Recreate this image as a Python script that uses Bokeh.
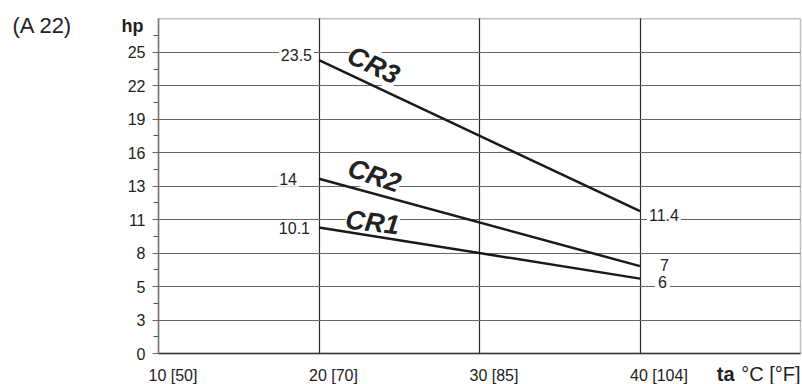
from bokeh.plotting import figure
from bokeh.models import (Range1d, FixedTicker, CustomJSTickFormatter, Label,
                          LinearAxis, Grid, BoxAnnotation)
from bokeh.embed import file_html
from bokeh.resources import INLINE

# ---- data ----
temps = [20, 40]                 # ta in °C
cr1 = [10.1, 6]                  # hp
cr2 = [14, 7]
cr3 = [23.5, 11.4]
series_names = ["CR1", "CR2", "CR3"]
x_ticks = [10, 20, 30, 40]
x_tick_labels = ["10 [50]", "20 [70]", "30 [85]", "40 [104]"]
y_tick_labels = ["0", "3", "5", "8", "11", "13", "16", "19", "22", "25"]
HP_STEP = 2.682                  # one grid step (2 kW) expressed in hp
X_MIN, X_MAX = 10, 50
N_STEPS = 10
Y_TOP = N_STEPS * HP_STEP

FONT = "Liberation Sans"
INK = "#1a1a1a"

# plot box position inside the 802x384 canvas (pixels)
W, H = 802, 384
BOX_L, BOX_R, BOX_T, BOX_B = 158, 800, 18.3, 353
xs_per_px = (X_MAX - X_MIN) / (BOX_R - BOX_L)
ys_per_px = Y_TOP / (BOX_B - BOX_T)
x_range = Range1d(X_MIN - BOX_L * xs_per_px, X_MAX + (W - BOX_R) * xs_per_px)
y_range = Range1d(-(H - BOX_B) * ys_per_px, Y_TOP + BOX_T * ys_per_px)

p = figure(width=W, height=H, x_range=x_range, y_range=y_range,
           output_backend="svg", toolbar_location=None,
           x_axis_location=None, y_axis_location=None,
           min_border=0)
p.min_border_left = p.min_border_right = p.min_border_top = p.min_border_bottom = 0
p.background_fill_color = "white"
p.border_fill_color = "white"
p.outline_line_color = None
p.grid.visible = False

# ---- grids limited to the plot box ----
xg = Grid(dimension=0, ticker=FixedTicker(ticks=[20, 30, 40]),
          cross_bounds=(0, Y_TOP), grid_line_color="#2a2a2a", grid_line_width=1.2)
yg = Grid(dimension=1, ticker=FixedTicker(ticks=[k * HP_STEP for k in range(1, N_STEPS)]),
          cross_bounds=(X_MIN, X_MAX), grid_line_color="#666666", grid_line_width=1.1)
p.add_layout(xg)
p.add_layout(yg)

# box outline
box = BoxAnnotation(left=X_MIN, right=X_MAX, bottom=0, top=Y_TOP,
                    fill_color=None, fill_alpha=0, line_color="#333333",
                    line_width=1.5, level="underlay")
p.add_layout(box)

# ---- y axis (fixed at the left edge of the box) ----
yt = FixedTicker(ticks=[k * HP_STEP for k in range(len(y_tick_labels))],
                 minor_ticks=[(k + 0.5) * HP_STEP for k in range(N_STEPS)])
yax = LinearAxis(fixed_location=X_MIN, bounds=(0, Y_TOP), ticker=yt)
yax.formatter = CustomJSTickFormatter(
    args=dict(labels=y_tick_labels, step=HP_STEP),
    code="const i = Math.round(tick / step); return (i >= 0 && i < labels.length) ? labels[i] : '';")
yax.axis_line_color = "#777777"
yax.axis_line_width = 1.5
yax.major_tick_in = 0
yax.major_tick_out = 6
yax.major_tick_line_color = "#666666"
yax.minor_tick_in = 0
yax.minor_tick_out = 5
yax.minor_tick_line_color = "#555555"
yax.major_label_standoff = 7
yax.major_label_text_font = FONT
yax.major_label_text_font_size = "16px"
yax.major_label_text_color = "#222222"
p.add_layout(yax, "left")

# ---- x axis line (bottom edge of the box); its labels are drawn below ----
xax = LinearAxis(fixed_location=0, bounds=(X_MIN, X_MAX), ticker=FixedTicker(ticks=[]))
xax.axis_line_color = "#333333"
xax.axis_line_width = 1.5
xax.major_tick_in = 0
xax.major_tick_out = 0
xax.minor_tick_in = 0
xax.minor_tick_out = 0
p.add_layout(xax, "below")

# ---- curves ----
for ys in (cr1, cr2, cr3):
    p.line(temps, ys, line_color=INK, line_width=2.5)


def lab(x, y, text, align="left", dx=0, dy=0, size="16px", style="normal",
        angle=0.0, bg=None, pad=0, level="annotation"):
    L = Label(x=x, y=y, text=text, x_offset=dx, y_offset=dy,
              text_align=align, text_baseline="middle", text_font=FONT,
              text_font_size=size, text_font_style=style, text_color="#222222",
              angle=angle, angle_units="rad", level=level)
    if bg:
        L.background_fill_color = bg
        L.padding = pad
    p.add_layout(L)


# value labels at the ends of the curves
lab(temps[0], cr3[0], str(cr3[0]), align="right", dx=-5, dy=5, bg="white", pad=2)
lab(temps[0], cr2[0], str(cr2[0]), align="right", dx=-20, dy=0, bg="white", pad=2)
lab(temps[0], cr1[0], str(cr1[0]), align="right", dx=-7, dy=-1, bg="white", pad=2)
lab(temps[1], cr3[1], str(cr3[1]), align="left", dx=7, dy=-4, bg="white", pad=2)
lab(temps[1], cr2[1], str(cr2[1]), align="left", dx=18, dy=1, bg="white", pad=2)
lab(temps[1], cr1[1], str(cr1[1]), align="left", dx=15, dy=-3, bg="white", pad=3)

# series names (bold italic, rotated along the curves)
name_pos = [(23.33, 10.5, -0.12), (23.45, 14.25, -0.33), (23.4, 23.1, -0.44)]
for name, (nx, ny, ang) in zip(series_names, name_pos):
    lab(nx, ny, name, align="center", size="27px", style="bold italic",
        angle=ang, bg="white", pad=0, level="underlay")

# x tick labels (below the box)
for xv, t in zip(x_ticks, x_tick_labels):
    lab(xv, 0, t, align="left", dx=-10, dy=-22)

# axis titles and panel tag
lab(X_MIN, Y_TOP, "hp", align="right", dx=-15, dy=-7, size="18px", style="bold")
lab(X_MIN, Y_TOP, "(A 22)", align="left", dx=-146, dy=-7, size="22px")
lab(X_MAX, 0, "ta", align="right", dx=-66, dy=-20, size="20px", style="bold")
lab(X_MAX, 0, "°C [°F]", align="right", dx=0, dy=-20, size="20px")

open("out.html", "w").write(file_html(p, INLINE))
